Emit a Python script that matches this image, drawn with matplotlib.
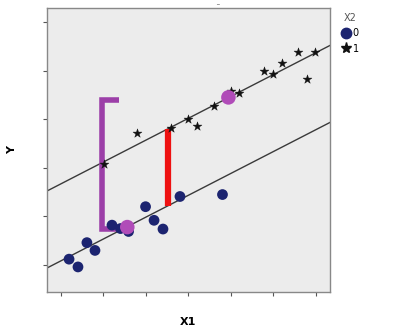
import matplotlib
matplotlib.use("Agg")
import matplotlib.pyplot as plt
from matplotlib.lines import Line2D
import numpy as np

# Group X2 = 0 (circles)
x0 = [1.19, 1.40, 1.61, 1.80, 2.20, 2.40, 2.59, 2.99, 3.19, 3.40, 3.80, 4.80]
y0 = [0.12, -0.04, 0.46, 0.30, 0.82, 0.75, 0.69, 1.20, 0.92, 0.74, 1.41, 1.45]
# Group X2 = 1 (stars)
x1 = [2.02, 2.79, 3.60, 4.00, 4.20, 4.59, 4.99, 5.19, 5.78, 5.99, 6.19, 6.58, 6.78, 6.98]
y1 = [2.07, 2.71, 2.81, 3.00, 2.87, 3.27, 3.59, 3.54, 4.00, 3.94, 4.15, 4.38, 3.83, 4.38]

# Fitted parallel lines
slope = 0.45
intercept0 = -0.364
intercept1 = 1.221

# Group means
mean_x = [2.56, 4.94]
mean_y = [0.78, 3.45]

# Red segment (difference between lines)
red_x = 3.525
# Purple bracket
br_x = [2.365, 1.965, 1.965, 2.56]
br_y = [3.40, 3.40, 0.745, 0.745]

legend_title = "X2"
legend_labels = ["0", "1"]

fig = plt.figure(figsize=(4.0, 3.32), dpi=100)
ax = fig.add_axes([47/400, 1-292/332, 283/400, 284/332])
ax.set_facecolor("#ececec")

xlim = (0.671, 7.33)
ylim = (-0.556, 5.29)
ax.set_xlim(*xlim)
ax.set_ylim(*ylim)

xs = np.array(xlim)
ax.plot(xs, intercept0 + slope*xs, color="#3a3a3a", lw=1.0, zorder=2)
ax.plot(xs, intercept1 + slope*xs, color="#3a3a3a", lw=1.0, zorder=2)

ax.plot([red_x, red_x], [intercept0 + slope*red_x, intercept1 + slope*red_x],
        color="#ee1111", lw=4.5, solid_capstyle="butt", zorder=3)
ax.plot(br_x, br_y, color="#9c3fa8", lw=4, solid_capstyle="butt",
        solid_joinstyle="miter", zorder=3)

ax.scatter(x0, y0, s=60, color="#1c2470", edgecolors="none", zorder=4)
ax.scatter(x1, y1, s=45, marker="*", color="#111111", edgecolors="#111111",
           linewidths=0.3, zorder=4)
ax.scatter(mean_x, mean_y, s=110, color="#b04cb8", edgecolors="none", zorder=5)

ax.set_xticks(range(1, 8))
ax.set_yticks(range(0, 6))
ax.set_xticklabels([])
ax.set_yticklabels([])
ax.tick_params(direction="out", length=3, width=0.8, color="#555555")
for s in ax.spines.values():
    s.set_color("#888888")
    s.set_linewidth(1.0)

fig.text(12/400, 1-150/332, "Y", rotation=90, fontsize=8, fontweight="bold",
         ha="center", va="center")
fig.text(188/400, 1-322/332, "X1", fontsize=8, fontweight="bold",
         ha="center", va="center")
fig.text(217/400, 1.0, "_", fontsize=4, ha="center", va="top")

handles = [Line2D([], [], marker="o", ls="none", color="#1c2470", markersize=7.5),
           Line2D([], [], marker="*", ls="none", color="#111111", markersize=8)]
leg = fig.legend(handles, legend_labels, title=legend_title, loc="upper left",
                 bbox_to_anchor=(334/400, 1-6/332), frameon=False, fontsize=7,
                 title_fontsize=7, handletextpad=0.2, handlelength=1.0,
                 labelspacing=0.55, borderpad=0.2)
leg.get_title().set_color("#555555")

fig.savefig("out.png", dpi=100)
